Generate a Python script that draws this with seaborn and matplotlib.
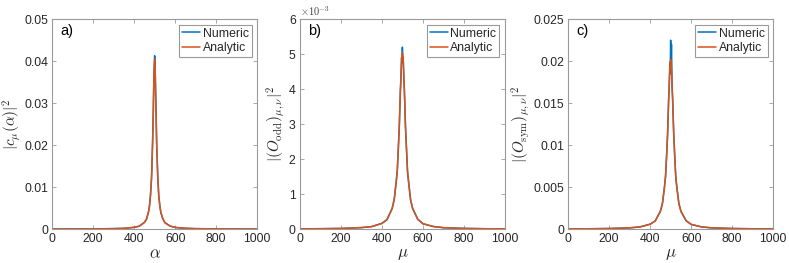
import numpy as np
import pandas as pd
import matplotlib
matplotlib.use("Agg")
import matplotlib.pyplot as plt
import seaborn as sns

# sample positions (alpha / mu)
x = [0, 100, 200, 300, 350, 400, 425, 450, 460, 470, 475, 480, 485, 490, 493, 496, 498,
     500, 502, 504, 507, 510, 515, 520, 525, 530, 540, 550, 575, 600, 650, 700, 800, 900, 1000]

# panel a) |c_mu(alpha)|^2
a_analytic = [1.6e-5, 2.5e-5, 4.5e-5, 1.0e-4, 1.8e-4, 4.0e-4, 7.1e-4, 1.56e-3, 2.38e-3, 4.05e-3,
              5.59e-3, 8.1e-3, 1.25e-2, 2.03e-2, 2.72e-2, 3.49e-2, 3.89e-2,
              4.05e-2, 3.89e-2, 3.49e-2, 2.72e-2, 2.03e-2, 1.25e-2, 8.1e-3, 5.59e-3, 4.05e-3,
              2.38e-3, 1.56e-3, 7.1e-4, 4.0e-4, 1.8e-4, 1.0e-4, 4.5e-5, 2.5e-5, 1.6e-5]
a_numeric = [1.5e-5, 2.7e-5, 4.3e-5, 1.1e-4, 1.7e-4, 4.2e-4, 6.8e-4, 1.6e-3, 2.3e-3, 4.1e-3,
             5.5e-3, 8.3e-3, 1.22e-2, 2.08e-2, 2.68e-2, 3.55e-2, 3.85e-2,
             4.13e-2, 3.95e-2, 3.42e-2, 2.78e-2, 1.98e-2, 1.28e-2, 7.9e-3, 5.7e-3, 3.95e-3,
             2.45e-3, 1.5e-3, 7.3e-4, 3.8e-4, 1.9e-4, 9.5e-5, 4.7e-5, 2.4e-5, 1.7e-5]

# panel b) |(O_odd)_{mu,nu}|^2
b_analytic = [6.5e-6, 1.02e-5, 1.82e-5, 4.07e-5, 7.16e-5, 1.58e-4, 2.75e-4, 5.78e-4, 8.52e-4, 1.34e-3,
              1.68e-3, 2.25e-3, 2.98e-3, 3.86e-3, 4.39e-3, 4.81e-3, 4.99e-3,
              5.05e-3, 4.99e-3, 4.81e-3, 4.39e-3, 3.86e-3, 2.98e-3, 2.25e-3, 1.68e-3, 1.34e-3,
              8.52e-4, 5.78e-4, 2.75e-4, 1.58e-4, 7.16e-5, 4.07e-5, 1.82e-5, 1.02e-5, 6.5e-6]
b_numeric = [6.0e-6, 1.1e-5, 1.7e-5, 4.3e-5, 6.9e-5, 1.65e-4, 2.65e-4, 5.95e-4, 8.3e-4, 1.38e-3,
             1.64e-3, 2.31e-3, 2.92e-3, 3.95e-3, 4.3e-3, 4.9e-3, 4.75e-3,
             5.2e-3, 4.85e-3, 4.9e-3, 4.3e-3, 3.95e-3, 2.9e-3, 2.32e-3, 1.62e-3, 1.38e-3,
             8.2e-4, 5.95e-4, 2.85e-4, 1.5e-4, 7.5e-5, 3.9e-5, 1.9e-5, 9.5e-6, 7.0e-6]

# panel c) |(O_sym)_{mu,nu}|^2
c_analytic = [2.33e-5, 3.65e-5, 6.47e-5, 1.45e-4, 2.56e-4, 5.67e-4, 9.89e-4, 2.09e-3, 3.11e-3, 4.93e-3,
              6.33e-3, 8.46e-3, 1.14e-2, 1.50e-2, 1.73e-2, 1.91e-2, 1.99e-2,
              2.02e-2, 1.99e-2, 1.91e-2, 1.73e-2, 1.50e-2, 1.14e-2, 8.46e-3, 6.33e-3, 4.93e-3,
              3.11e-3, 2.09e-3, 9.89e-4, 5.67e-4, 2.56e-4, 1.45e-4, 6.47e-5, 3.65e-5, 2.33e-5]
c_numeric = [2.2e-5, 3.8e-5, 6.2e-5, 1.5e-4, 2.45e-4, 5.9e-4, 9.6e-4, 2.15e-3, 3.0e-3, 5.1e-3,
             6.2e-3, 8.7e-3, 1.11e-2, 1.55e-2, 1.68e-2, 1.98e-2, 1.85e-2,
             2.25e-2, 1.95e-2, 2.2e-2, 1.68e-2, 1.55e-2, 1.12e-2, 8.7e-3, 6.1e-3, 5.05e-3,
             3.0e-3, 2.15e-3, 1.02e-3, 5.5e-4, 2.65e-4, 1.4e-4, 6.7e-5, 3.5e-5, 2.4e-5]

panels = [
    ("a)", a_numeric, a_analytic, r"$\alpha$", r"$|c_\mu(\alpha)|^2$",
     [0, 0.01, 0.02, 0.03, 0.04, 0.05], ["0", "0.01", "0.02", "0.03", "0.04", "0.05"]),
    ("b)", b_numeric, b_analytic, r"$\mu$", r"$|(O_{\mathrm{odd}})_{\mu,\nu}|^2$",
     [0, 1e-3, 2e-3, 3e-3, 4e-3, 5e-3, 6e-3], ["0", "1", "2", "3", "4", "5", "6"]),
    ("c)", c_numeric, c_analytic, r"$\mu$", r"$|(O_{\mathrm{sym}})_{\mu,\nu}|^2$",
     [0, 0.005, 0.01, 0.015, 0.02, 0.025], ["0", "0.005", "0.01", "0.015", "0.02", "0.025"]),
]

sns.set_style("ticks")
plt.rcParams["font.family"] = ["Liberation Sans", "DejaVu Sans"]
plt.rcParams["mathtext.fontset"] = "cm"

fig = plt.figure(figsize=(7.89, 2.63), dpi=100)
lefts = [0.066, 0.380, 0.720]
palette = {"Numeric": "#0072BD", "Analytic": "#D95319"}
edge = "#9a9a9a"
textc = "#262626"

for left, (tag, num, ana, xl, yl, yt, ytl) in zip(lefts, panels):
    ax = fig.add_axes([left, 0.129, 0.260, 0.798])
    df = pd.DataFrame({
        "x": x * 2,
        "y": num + ana,
        "kind": ["Numeric"] * len(x) + ["Analytic"] * len(x),
    })
    sns.lineplot(data=df, x="x", y="y", hue="kind", palette=palette, ax=ax,
                 linewidth=1.1, sort=False)
    ax.set_xlim(0, 1000)
    ax.set_ylim(yt[0], yt[-1])
    ax.set_xticks([0, 200, 400, 600, 800, 1000])
    ax.set_yticks(yt)
    ax.set_yticklabels(ytl)
    ax.set_xlabel(xl, fontsize=12, labelpad=1, color=textc)
    ax.set_ylabel(yl, fontsize=11, labelpad=1, color=textc)
    ax.tick_params(direction="in", length=3, width=0.6, labelsize=8.8,
                   colors=textc, top=True, right=True, pad=3)
    for s in ax.spines.values():
        s.set_visible(True)
        s.set_color(edge)
        s.set_linewidth(0.8)
    ax.tick_params(axis="both", color=edge)
    ax.text(0.04, 0.975, tag, transform=ax.transAxes, fontsize=10.5,
            va="top", ha="left", color="black")
    if tag == "b)":
        ax.text(0.0, 1.005, r"$\times10^{-3}$", transform=ax.transAxes,
                fontsize=7.5, va="bottom", ha="left", color="#444444")
    leg = ax.legend(loc="upper right", fontsize=8.8, frameon=True, fancybox=False,
                    handlelength=1.5, handletextpad=0.2, borderpad=0.25,
                    labelspacing=0.2, borderaxespad=0.45)
    leg.get_frame().set_edgecolor(edge)
    leg.get_frame().set_linewidth(0.8)
    leg.get_frame().set_alpha(1)

fig.savefig("out.png", dpi=100)
